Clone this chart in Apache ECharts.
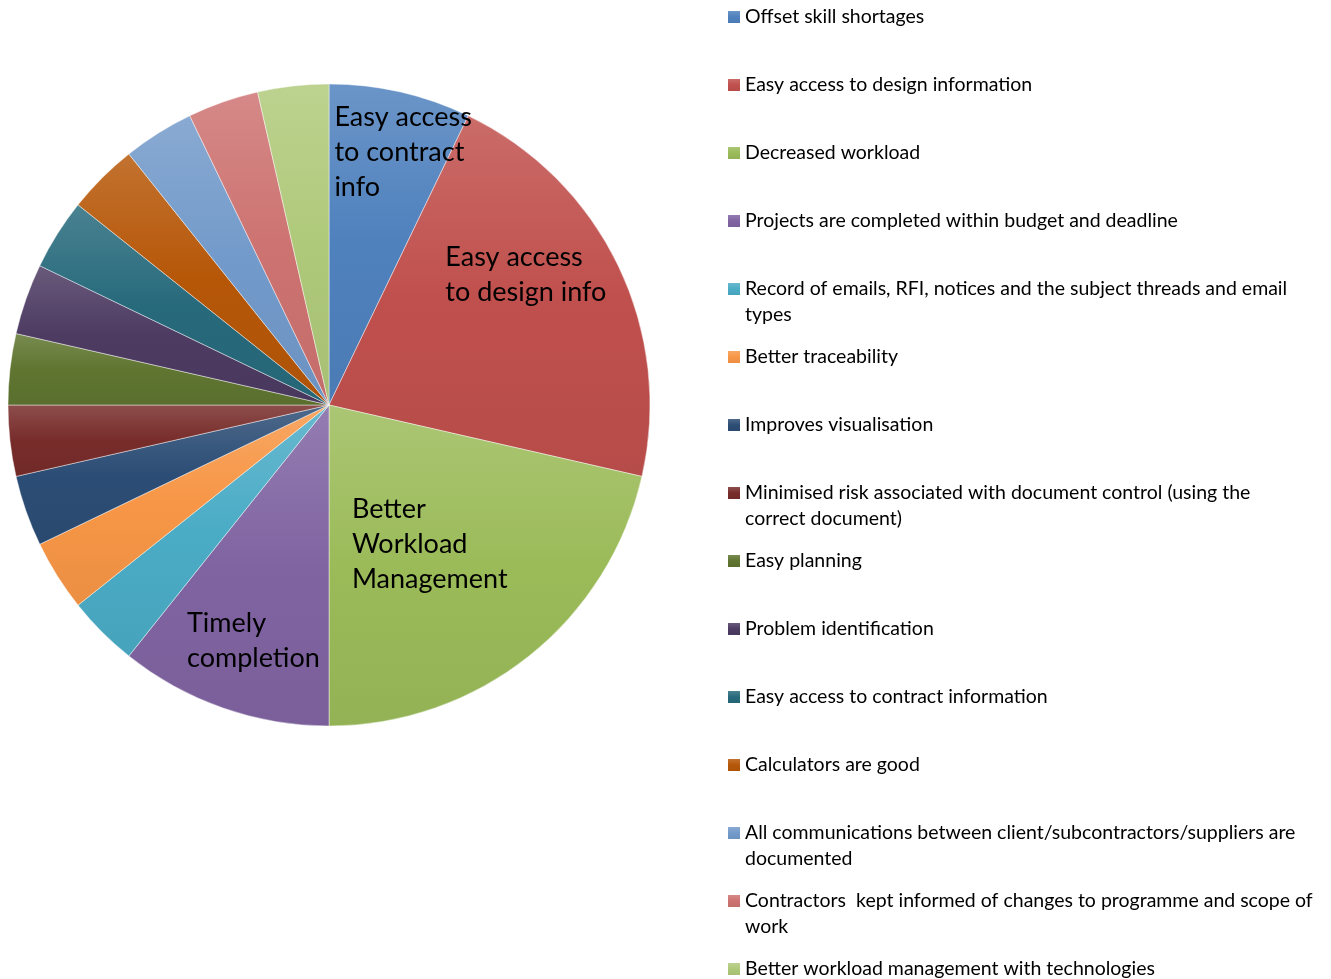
<!DOCTYPE html>
<html>
<head>
<meta charset="utf-8">
<title>Benefits pie</title>
<script src="https://cdn.jsdelivr.net/npm/echarts@6/dist/echarts.min.js"></script>
<style>
  html, body { margin: 0; padding: 0; background: #fff; }
  #chart { width: 1331px; height: 979px; }
</style>
</head>
<body>
<div id="chart"></div>
<script>
// Benefit categories (legend order = slice order, clockwise from 12 o'clock)
const categories = [
  'Offset skill shortages',
  'Easy access to design information',
  'Decreased workload',
  'Projects are completed within budget and deadline',
  'Record of emails, RFI, notices and the subject threads and email types',
  'Better traceability',
  'Improves visualisation',
  'Minimised risk associated with document control (using the correct document)',
  'Easy planning',
  'Problem identification',
  'Easy access to contract information',
  'Calculators are good',
  'All communications between client/subcontractors/suppliers are documented',
  'Contractors  kept informed of changes to programme and scope of work',
  'Better workload management with technologies'
];

// Number of responses per benefit
const values = [2, 6, 6, 3, 1, 1, 1, 1, 1, 1, 1, 1, 1, 1, 1];

// Text written inside the larger slices
const sliceLabels = [
  'Easy access\nto contract\ninfo',
  'Easy access\nto design info',
  'Better\nWorkload\nManagement',
  'Timely\ncompletion'
];

// Legend text broken over two lines where it runs long
const legendLines = {
  'Record of emails, RFI, notices and the subject threads and email types':
    'Record of emails, RFI, notices and the subject threads and email\ntypes',
  'Minimised risk associated with document control (using the correct document)':
    'Minimised risk associated with document control (using the\ncorrect document)',
  'All communications between client/subcontractors/suppliers are documented':
    'All communications between client/subcontractors/suppliers are\ndocumented',
  'Contractors  kept informed of changes to programme and scope of work':
    'Contractors  kept informed of changes to programme and scope of\nwork'
};

const palette = ['#4F81BD', '#C0504D', '#9BBB59', '#8064A2', '#4BACC6', '#F79646',
  '#2C4D75', '#772C2A', '#5F7530', '#4D3B62', '#276A7C', '#B65708',
  '#729ACA', '#CD7371', '#AFC97A'];

function mix(hex, target, t) {
  const a = parseInt(hex.slice(1), 16), b = parseInt(target.slice(1), 16);
  const ch = (v, s) => (v >> s) & 255;
  const out = [16, 8, 0].map(s => Math.round(ch(a, s) + (ch(b, s) - ch(a, s)) * t));
  return 'rgb(' + out.join(',') + ')';
}

function shade(hex) {
  return new echarts.graphic.LinearGradient(0, 0, 0, 1, [
    { offset: 0, color: mix(hex, '#ffffff', 0.16) },
    { offset: 0.5, color: hex },
    { offset: 1, color: mix(hex, '#000000', 0.05) }
  ]);
}

// Nudges for the inside labels, relative to their default spot in each slice
const labelShift = [[-31, -93], [-31, -59], [-79, 11.5], [-88, 81]];

const pieData = categories.map((name, i) => ({
  name: name,
  value: values[i],
  itemStyle: { color: shade(palette[i]) },
  label: sliceLabels[i]
    ? { show: true, formatter: sliceLabels[i] }
    : { show: false }
}));

// One legend block per entry so each row keeps a fixed pitch.
// Wrapped entries get an empty leading line so their first line sits level with the swatch.
const legendTop0 = 17, legendPitch = 68;
const legends = categories.map((name, i) => {
  const twoLine = !!legendLines[name];
  return {
    data: [name],
    left: 728,
    top: legendTop0 + legendPitch * i - (twoLine ? 39 : 13),
    orient: 'vertical',
    padding: 0,
    icon: 'rect',
    itemWidth: 12,
    itemHeight: 12,
    itemGap: 0,
    selectedMode: false,
    itemStyle: { borderWidth: 0 },
    formatter: n => (legendLines[n] ? '\n' + legendLines[n] : n),
    textStyle: {
      fontFamily: 'Lato',
      fontSize: 19.5,
      lineHeight: 26,
      color: '#000'
    }
  };
});

const chart = echarts.init(document.getElementById('chart'), null, { renderer: 'canvas' });
chart.setOption({
  animation: false,
  backgroundColor: '#ffffff',
  legend: legends,
  series: [{
    type: 'pie',
    center: [329, 405],
    radius: [0, 321],
    startAngle: 90,
    clockwise: true,
    avoidLabelOverlap: false,
    emphasis: { disabled: true },
    itemStyle: { borderColor: 'rgba(255,255,255,0.55)', borderWidth: 0.8 },
    label: {
      position: 'inside',
      fontFamily: 'Lato',
      fontSize: 27,
      lineHeight: 35,
      color: '#000'
    },
    labelLine: { show: false },
    labelLayout: function (params) {
      const s = labelShift[params.dataIndex];
      if (!s) return {};
      return { align: 'left', verticalAlign: 'middle', dx: s[0], dy: s[1] };
    },
    data: pieData
  }]
});
</script>
</body>
</html>
